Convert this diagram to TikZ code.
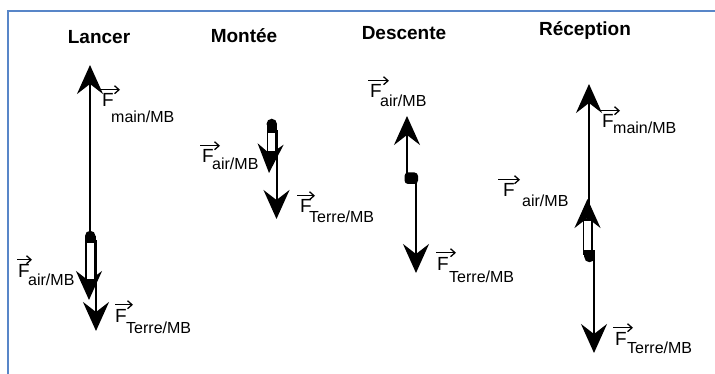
\documentclass[tikz,border=0pt]{standalone}
\usepackage{fontspec}
\setmainfont{Liberation Sans}
\usetikzlibrary{arrows.meta}
\definecolor{frameblue}{RGB}{88,134,200}
\tikzset{
  x=1pt,y=-1pt,
  title/.style={font=\fontsize{19}{19}\selectfont\bfseries, inner sep=0, anchor=base},
  fF/.style={font=\fontsize{19}{19}\selectfont, inner sep=0, anchor=base west},
  fsub/.style={font=\fontsize{16}{16}\selectfont, inner sep=0, anchor=base west},
  vec/.style={line width=2pt, -{Stealth[length=29pt,width=26pt,inset=10pt]}},
  hollow/.style={draw=black, fill=white, line width=1.5pt},
  capstyle/.style={fill=black},
  ovarrow/.style={line width=1.3pt, -{Straight Barb[length=4.5pt,width=8pt]}},
  framestyle/.style={draw=frameblue, line width=2pt}
}
\begin{document}
\begin{tikzpicture}
\useasboundingbox (0,0) rectangle (715,374);
\fill[white] (0,0) rectangle (715,374);
% frame
\coordinate (fbl) at (8,374);
\coordinate (ftl) at (8,11);
\coordinate (ftr) at (715,11);
\draw[framestyle] (fbl) -- (ftl) -- (ftr);

% titles
\node[title] (tL) at (99,44) {Lancer};
\node[title] (tM) at (244,43) {Montée};
\node[title] (tD) at (404,40) {Descente};
\node[title] (tR) at (585,36) {Réception};

% ---------- Lancer ----------
\coordinate (Lo) at (90,238);
\coordinate (Lmt) at (90,65);
\coordinate (Las) at (89,240);
\coordinate (Lat) at (89,300);
\coordinate (LTs) at (96,240);
\coordinate (LTt) at (96,331);
\draw[vec] (Lo) -- (Lmt);
\draw[vec] (Las) -- (Lat);
\draw[hollow] (86,238) rectangle (94.5,280);
\fill[capstyle] (85,236) rectangle (95.5,243);
\fill[capstyle] (90.25,236) circle (5.25pt);
\draw[vec] (LTs) -- (LTt);

\node[fF] (LmF) at (102,107) {F};
\node[fsub] (Lms) at (111,123) {main/MB};
\draw[ovarrow] ([xshift=-2pt,yshift=4pt]LmF.north west) -- ++(20,0);

\node[fF] (LaF) at (18,277) {F};
\node[fsub] (Las2) at (28,285) {air/MB};
\draw[ovarrow] ([xshift=-1pt,yshift=4pt]LaF.north west) -- ++(15,0);

\node[fF] (LTF) at (115,322) {F};
\node[fsub] (LTs2) at (126,333) {Terre/MB};
\draw[ovarrow] ([xshift=0pt,yshift=4pt]LTF.north west) -- ++(18,0);

% ---------- Montée ----------
\coordinate (Mas) at (271.5,128);
\coordinate (Mat) at (269,173);
\coordinate (MTs) at (276.5,130);
\coordinate (MTt) at (276.5,219);
\draw[vec] (Mas) -- (Mat);
\draw[hollow] (267.5,128) rectangle (275.5,152);
\fill[capstyle] (266.5,124) rectangle (277,133);
\fill[capstyle] (271.75,124) circle (5.25pt);
\draw[vec] (MTs) -- (MTt);

\node[fF] (MaF) at (202,163) {F};
\node[fsub] (Mas2) at (212,170) {air/MB};
\draw[ovarrow] ([xshift=-2pt,yshift=4pt]MaF.north west) -- ++(20,0);

\node[fF] (MTF) at (300,213) {F};
\node[fsub] (MTs2) at (309,223) {Terre/MB};
\draw[ovarrow] ([xshift=-3pt,yshift=4pt]MTF.north west) -- ++(18,0);

% ---------- Descente ----------
\coordinate (Das) at (407,180);
\coordinate (Dat) at (407,116);
\coordinate (DTs) at (416,176);
\coordinate (DTt) at (416,273);
\draw[vec] (Das) -- (Dat);
\draw[vec] (DTs) -- (DTt);
\fill[capstyle, rounded corners=3.5pt] (404.5,172.5) rectangle (418,184);

\node[fF] (DaF) at (370,98) {F};
\node[fsub] (Das2) at (380,107) {air/MB};
\draw[ovarrow] ([xshift=-2pt,yshift=4pt]DaF.north west) -- ++(21,0);

\node[fF] (DTF) at (437,270) {F};
\node[fsub] (DTs2) at (449,283) {Terre/MB};
\draw[ovarrow] ([xshift=-1pt,yshift=4pt]DTF.north west) -- ++(20,0);

% ---------- Réception ----------
\coordinate (Ro) at (589,257);
\coordinate (Rmt) at (589,84);
\coordinate (Ras) at (587.5,255);
\coordinate (Rat) at (587.5,199);
\coordinate (RTs) at (594,257);
\coordinate (RTt) at (594,353);
\draw[vec] (Ro) -- (Rmt);
\draw[vec] (Ras) -- (Rat);
\draw[hollow] (583.5,220) rectangle (592,254);
\fill[capstyle] (584,250) rectangle (595,257);
\fill[capstyle] (589.5,257) circle (5.25pt);
\draw[vec] (RTs) -- (RTt);

\node[fF] (RmF) at (602,128) {F};
\node[fsub] (Rms) at (613,134) {main/MB};
\draw[ovarrow] ([xshift=-2pt,yshift=4pt]RmF.north west) -- ++(20,0);

\node[fF] (RaF) at (503,197) {F};
\node[fsub] (Ras2) at (522,207) {air/MB};
\draw[ovarrow] ([xshift=-5pt,yshift=4pt]RaF.north west) -- ++(22,0);

\node[fF] (RTF) at (615,345) {F};
\node[fsub] (RTs2) at (627,353) {Terre/MB};
\draw[ovarrow] ([xshift=-2pt,yshift=4pt]RTF.north west) -- ++(20,0);
\end{tikzpicture}
\end{document}
